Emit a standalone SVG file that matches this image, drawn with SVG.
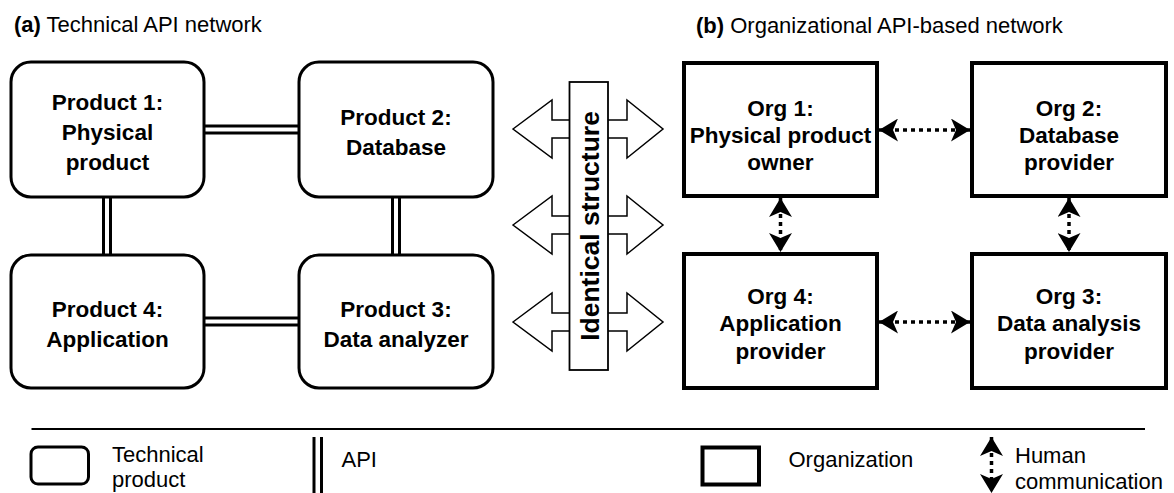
<svg xmlns="http://www.w3.org/2000/svg" width="1174" height="493" viewBox="0 0 1174 493">
<style>
text{font-family:"Liberation Sans",Arial,sans-serif;fill:#000}
.t{font-size:22.5px;font-weight:bold;text-anchor:middle}
.title{font-size:22px}
.leg{font-size:22px}
.prod{fill:#fff;stroke:#000;stroke-width:3}
.org{fill:#fff;stroke:#000;stroke-width:4}
.api{stroke:#000;stroke-width:3;fill:none}
.hc{stroke:#000;stroke-width:3.5;stroke-dasharray:4 4;fill:none;marker-start:url(#ah);marker-end:url(#ah)}
.blk{fill:#fff;stroke:#000;stroke-width:1.5;stroke-linejoin:miter}
</style>
<defs>
<marker id="ah" viewBox="0 0 19 23" refX="19" refY="11.5" markerWidth="19" markerHeight="23" markerUnits="userSpaceOnUse" orient="auto-start-reverse">
<path d="M0,0 L19,11.5 L0,23 L5,11.5 Z" fill="#000"/>
</marker>
</defs>
<rect width="1174" height="493" fill="#fff"/>

<g id="titles">
<text class="title" x="14" y="32"><tspan font-weight="bold">(a)</tspan> Technical API network</text>
<text class="title" x="696" y="33"><tspan font-weight="bold">(b)</tspan> Organizational API-based network</text>
</g>

<g id="connectors">
<!-- API double lines -->
<line class="api" x1="204" y1="126" x2="299" y2="126"/>
<line class="api" x1="204" y1="133" x2="299" y2="133"/>
<line class="api" x1="204" y1="318" x2="299" y2="318"/>
<line class="api" x1="204" y1="325" x2="299" y2="325"/>
<line class="api" x1="103.5" y1="197" x2="103.5" y2="255"/>
<line class="api" x1="110.5" y1="197" x2="110.5" y2="255"/>
<line class="api" x1="392.5" y1="197" x2="392.5" y2="255"/>
<line class="api" x1="399.5" y1="197" x2="399.5" y2="255"/>
<!-- human communication -->
<line class="hc" x1="879" y1="130" x2="970" y2="130"/>
<line class="hc" x1="879" y1="322" x2="970" y2="322"/>
<line class="hc" x1="780.5" y1="198" x2="780.5" y2="252"/>
<line class="hc" x1="1069" y1="198" x2="1069" y2="252"/>
</g>

<g id="identical-structure">
<polygon class="blk" points="513,129 552,100 552,120 627,120 627,100 663,129 627,158 627,138 552,138 552,158"/>
<polygon class="blk" points="513,225 552,196 552,216 627,216 627,196 663,225 627,254 627,234 552,234 552,254"/>
<polygon class="blk" points="513,322 552,293 552,313 627,313 627,293 663,322 627,351 627,331 552,331 552,351"/>
<rect x="569.5" y="82" width="38.5" height="288" fill="#fff" stroke="#000" stroke-width="1.8"/>
<text class="t" style="font-size:26.5px" transform="translate(598.5,226) rotate(-90)" x="0" y="0">Identical structure</text>
</g>

<g id="product1">
<rect class="prod" x="11" y="62" width="193" height="135" rx="20"/>
<text class="t" x="107.5" y="110">Product 1:</text>
<text class="t" x="107.5" y="140">Physical</text>
<text class="t" x="107.5" y="170">product</text>
</g>
<g id="product2">
<rect class="prod" x="299" y="62" width="194" height="135" rx="20"/>
<text class="t" x="396" y="125">Product 2:</text>
<text class="t" x="396" y="155">Database</text>
</g>
<g id="product4">
<rect class="prod" x="11" y="255" width="193" height="133" rx="20"/>
<text class="t" x="107.5" y="317">Product 4:</text>
<text class="t" x="107.5" y="347">Application</text>
</g>
<g id="product3">
<rect class="prod" x="299" y="255" width="194" height="133" rx="20"/>
<text class="t" x="396" y="317">Product 3:</text>
<text class="t" x="396" y="347">Data analyzer</text>
</g>

<g id="org1">
<rect class="org" x="684" y="63" width="193" height="133"/>
<text class="t" x="780.5" y="115.5">Org 1:</text>
<text class="t" x="780.5" y="142.5">Physical product</text>
<text class="t" x="780.5" y="169.5">owner</text>
</g>
<g id="org2">
<rect class="org" x="972" y="63" width="194" height="133"/>
<text class="t" x="1069" y="115.5">Org 2:</text>
<text class="t" x="1069" y="142.5">Database</text>
<text class="t" x="1069" y="169.5">provider</text>
</g>
<g id="org4">
<rect class="org" x="684" y="254" width="193" height="134"/>
<text class="t" x="780.5" y="303.5">Org 4:</text>
<text class="t" x="780.5" y="331">Application</text>
<text class="t" x="780.5" y="358.5">provider</text>
</g>
<g id="org3">
<rect class="org" x="972" y="254" width="194" height="134"/>
<text class="t" x="1069" y="303.5">Org 3:</text>
<text class="t" x="1069" y="331">Data analysis</text>
<text class="t" x="1069" y="358.5">provider</text>
</g>

<g id="legend">
<line x1="31.5" y1="429" x2="1145" y2="429" stroke="#000" stroke-width="2"/>
<rect class="prod" x="31" y="447" width="57.5" height="37" rx="7"/>
<text class="leg" x="112" y="461.5">Technical</text>
<text class="leg" x="112" y="487">product</text>
<line class="api" x1="314" y1="437" x2="314" y2="493"/>
<line class="api" x1="321.5" y1="437" x2="321.5" y2="493"/>
<text class="leg" x="341.5" y="467">API</text>
<rect class="org" x="702.5" y="447.5" width="56.5" height="37"/>
<text class="leg" x="788.5" y="467">Organization</text>
<line class="hc" x1="991.5" y1="437" x2="991.5" y2="493"/>
<text class="leg" x="1015" y="463">Human</text>
<text class="leg" x="1015" y="489">communication</text>
</g>
</svg>
